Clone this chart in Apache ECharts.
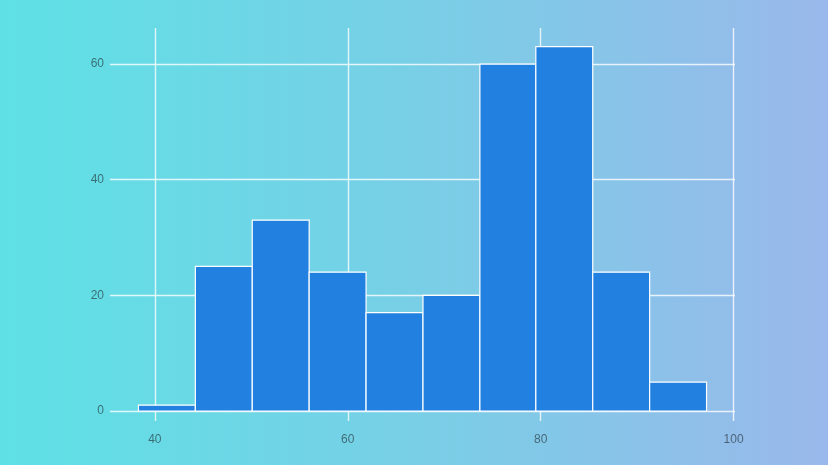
<!DOCTYPE html>
<html>
<head>
<meta charset="utf-8">
<script src="https://cdn.jsdelivr.net/npm/echarts@6/dist/echarts.min.js"></script>
<style>
  html, body { margin: 0; padding: 0; }
  #chart { width: 828px; height: 465px; }
</style>
</head>
<body>
<div id="chart"></div>
<script>
// Histogram bins (start, end) and counts
const binStarts = [38.3, 44.2, 50.1, 56.0, 61.9, 67.8, 73.7, 79.5, 85.4, 91.3];
const binEnds   = [44.2, 50.1, 56.0, 61.9, 67.8, 73.7, 79.5, 85.4, 91.3, 97.2];
const counts    = [1, 25, 33, 24, 17, 20, 60, 63, 24, 5];

const data = counts.map((c, i) => [binStarts[i], binEnds[i], c]);

const chart = echarts.init(document.getElementById('chart'));
const labelColor = 'rgba(30,40,45,0.62)';
const font = 'Liberation Sans, Arial, sans-serif';
const gridLine = { show: true, lineStyle: { color: 'rgba(255,255,255,0.8)', width: 1.4 }, showMinLine: false, showMaxLine: false };

chart.setOption({
  backgroundColor: {
    type: 'linear', x: 0, y: 0, x2: 1, y2: 0,
    colorStops: [{ offset: 0, color: '#5ee1e5' }, { offset: 0.5, color: '#78cfe6' }, { offset: 1, color: '#9ab8eb' }]
  },
  grid: { left: 110, right: 93, top: 28, bottom: 44, containLabel: false },
  xAxis: {
    type: 'value',
    min: 35.35, max: 100.15,
    splitNumber: 3,
    axisLine: { show: false },
    axisTick: { show: false },
    axisLabel: { color: labelColor, fontSize: 12, fontFamily: font, margin: 13, showMinLabel: false, showMaxLabel: false },
    splitLine: gridLine
  },
  yAxis: {
    type: 'value',
    min: -1.73, max: 66.23,
    splitNumber: 3,
    axisLine: { show: false },
    axisTick: { show: false },
    axisLabel: { color: labelColor, fontSize: 12, fontFamily: font, margin: 6, showMinLabel: false, showMaxLabel: false },
    splitLine: gridLine
  },
  series: [{
    type: 'custom',
    data: data,
    encode: { x: [0, 1], y: 2 },
    renderItem: function (params, api) {
      const p0 = api.coord([api.value(0), 0]);
      const p1 = api.coord([api.value(1), api.value(2)]);
      return {
        type: 'rect',
        shape: { x: p0[0], y: p1[1], width: p1[0] - p0[0], height: p0[1] - p1[1] },
        style: { fill: '#2180e0', stroke: '#ffffff', lineWidth: 1.2 }
      };
    }
  }]
});
</script>
</body>
</html>
